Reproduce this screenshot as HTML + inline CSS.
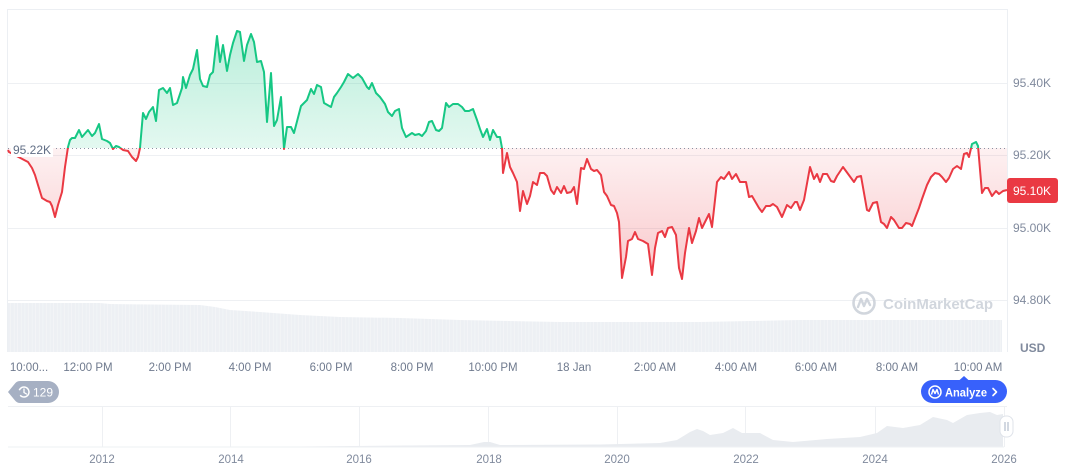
<!DOCTYPE html>
<html><head><meta charset="utf-8"><style>
html,body{margin:0;padding:0;background:#fff;}
svg{display:block;font-family:"Liberation Sans",sans-serif;}
</style></head><body>
<svg width="1072" height="470" viewBox="0 0 1072 470" xmlns="http://www.w3.org/2000/svg">
<defs>
<linearGradient id="gG" gradientUnits="userSpaceOnUse" x1="0" y1="30" x2="0" y2="148">
<stop offset="0" stop-color="#16c784" stop-opacity="0.30"/>
<stop offset="1" stop-color="#16c784" stop-opacity="0.12"/>
</linearGradient>
<linearGradient id="gR" gradientUnits="userSpaceOnUse" x1="0" y1="148" x2="0" y2="280">
<stop offset="0" stop-color="#ea3943" stop-opacity="0.07"/>
<stop offset="1" stop-color="#ea3943" stop-opacity="0.28"/>
</linearGradient>
<clipPath id="cA"><rect x="0" y="0" width="1072" height="148"/></clipPath>
<clipPath id="cB"><rect x="0" y="148" width="1072" height="200"/></clipPath>
<pattern id="vb" width="3.6" height="10" patternUnits="userSpaceOnUse"><rect width="3.6" height="10" fill="#edf0f4"/><rect x="3" width="0.6" height="10" fill="#f6f7f9"/></pattern>
</defs>

<!-- frame -->
<line x1="8" y1="9.5" x2="1007" y2="9.5" stroke="#eceff3" stroke-width="1"/>
<line x1="7.5" y1="9" x2="7.5" y2="352" stroke="#eceff3" stroke-width="1"/>
<line x1="1007.5" y1="9" x2="1007.5" y2="352" stroke="#eceff3" stroke-width="1"/>
<!-- grid -->
<g stroke="#eef0f3" stroke-width="1">
<line x1="8" y1="83.5" x2="1007" y2="83.5"/>
<line x1="8" y1="155.5" x2="1007" y2="155.5"/>
<line x1="8" y1="228.5" x2="1007" y2="228.5"/>
<line x1="8" y1="300.5" x2="1007" y2="300.5"/>
</g>

<!-- volume -->
<polygon fill="url(#vb)" points="8,303 100,303 110,304 200,305 215,307 230,310 260,312 300,315 340,317 400,318 460,320 560,322 700,322 800,320 1002,320 1002,352 8,352"/>

<!-- watermark -->
<g opacity="0.9">
<circle cx="864" cy="303" r="10.5" fill="none" stroke="#cdd2da" stroke-width="2.6"/>
<path d="M858,307 L861,299 L864,306 L867,299 L870,305" fill="none" stroke="#cdd2da" stroke-width="2.4" stroke-linejoin="round" stroke-linecap="round"/>
<text x="883" y="309" font-size="15" font-weight="bold" fill="#cdd2da">CoinMarketCap</text>
</g>

<!-- fills -->
<polygon clip-path="url(#cA)" fill="url(#gG)" points="8,148 8,150 9,152 28,162 32,168 35,175 38,185 42,198 47,201 50,202 52,206 55,217 58,205 62,192 65,167 68,147 70,140 72,138 75,138 79,130 82,137 88,130 92,136 95,133 99,124 102,139 107,141 110,143 113,149 116,146 119,147 123,150 128,151 132,157 136,161 138,157 140,148 143,113 146,119 149,112 153,107 156,121 159,90 163,88 167,93 170,88 173,105 177,103 182,88 183,77 186,88 190,75 193,69 197,50 200,79 203,86 207,87 210,75 213,72 217,36 220,62 223,45 227,71 230,55 233,43 237,31 240,32 244,61 247,45 251,34 254,42 257,62 261,61 264,72 267,122 271,73 274,126 277,120 281,97 284,149 287,127 291,127 294,133 301,106 307,100 311,89 314,94 317,85 321,87 324,103 331,107 334,97 337,93 341,87 344,82 348,74 353,78 358,74 362,78 367,87 369,89 372,83 376,93 380,97 385,104 388,112 392,116 395,111 399,109 402,128 406,137 409,135 412,133 415,135 419,134 422,136 426,131 429,122 432,121 436,130 439,131 442,128 446,103 449,107 453,104 458,104 462,107 465,111 469,111 473,109 477,120 480,129 483,137 487,129 490,140 493,130 497,137 500,137 502,148 503,173 507,153 510,167 513,173 517,182 520,211 523,191 527,204 530,196 533,182 537,185 540,173 544,173 547,176 551,190 554,194 557,187 561,193 564,186 567,193 571,192 574,187 577,204 581,168 584,169 587,159 591,169 594,171 597,170 601,175 604,192 607,196 611,205 614,206 617,213 619,222 622,278 626,257 628,241 632,239 635,232 638,239 643,241 648,244 652,275 655,248 658,233 662,231 665,237 668,228 672,227 676,235 679,268 682,279 685,253 689,228 692,243 696,231 699,218 702,228 709,214 712,227 717,182 721,177 724,179 729,172 732,179 736,174 740,182 746,182 749,197 752,196 759,208 762,212 766,206 770,206 773,204 777,207 782,217 787,205 791,208 795,202 797,202 800,210 804,200 810,167 814,179 817,174 820,182 823,174 827,174 831,181 834,182 837,176 843,167 854,182 857,177 861,176 867,210 869,211 873,203 877,202 881,222 884,224 887,228 891,217 894,220 899,228 902,228 906,223 910,224 912,226 919,208 922,199 927,185 931,177 935,173 939,174 942,177 946,182 949,178 953,169 957,166 961,169 964,154 967,153 969,157 972,144 976,142 978,146 982,193 985,188 988,188 992,196 996,191 999,194 1003,191 1007,190 1007,148"/>
<polygon clip-path="url(#cB)" fill="url(#gR)" points="8,148 8,150 9,152 28,162 32,168 35,175 38,185 42,198 47,201 50,202 52,206 55,217 58,205 62,192 65,167 68,147 70,140 72,138 75,138 79,130 82,137 88,130 92,136 95,133 99,124 102,139 107,141 110,143 113,149 116,146 119,147 123,150 128,151 132,157 136,161 138,157 140,148 143,113 146,119 149,112 153,107 156,121 159,90 163,88 167,93 170,88 173,105 177,103 182,88 183,77 186,88 190,75 193,69 197,50 200,79 203,86 207,87 210,75 213,72 217,36 220,62 223,45 227,71 230,55 233,43 237,31 240,32 244,61 247,45 251,34 254,42 257,62 261,61 264,72 267,122 271,73 274,126 277,120 281,97 284,149 287,127 291,127 294,133 301,106 307,100 311,89 314,94 317,85 321,87 324,103 331,107 334,97 337,93 341,87 344,82 348,74 353,78 358,74 362,78 367,87 369,89 372,83 376,93 380,97 385,104 388,112 392,116 395,111 399,109 402,128 406,137 409,135 412,133 415,135 419,134 422,136 426,131 429,122 432,121 436,130 439,131 442,128 446,103 449,107 453,104 458,104 462,107 465,111 469,111 473,109 477,120 480,129 483,137 487,129 490,140 493,130 497,137 500,137 502,148 503,173 507,153 510,167 513,173 517,182 520,211 523,191 527,204 530,196 533,182 537,185 540,173 544,173 547,176 551,190 554,194 557,187 561,193 564,186 567,193 571,192 574,187 577,204 581,168 584,169 587,159 591,169 594,171 597,170 601,175 604,192 607,196 611,205 614,206 617,213 619,222 622,278 626,257 628,241 632,239 635,232 638,239 643,241 648,244 652,275 655,248 658,233 662,231 665,237 668,228 672,227 676,235 679,268 682,279 685,253 689,228 692,243 696,231 699,218 702,228 709,214 712,227 717,182 721,177 724,179 729,172 732,179 736,174 740,182 746,182 749,197 752,196 759,208 762,212 766,206 770,206 773,204 777,207 782,217 787,205 791,208 795,202 797,202 800,210 804,200 810,167 814,179 817,174 820,182 823,174 827,174 831,181 834,182 837,176 843,167 854,182 857,177 861,176 867,210 869,211 873,203 877,202 881,222 884,224 887,228 891,217 894,220 899,228 902,228 906,223 910,224 912,226 919,208 922,199 927,185 931,177 935,173 939,174 942,177 946,182 949,178 953,169 957,166 961,169 964,154 967,153 969,157 972,144 976,142 978,146 982,193 985,188 988,188 992,196 996,191 999,194 1003,191 1007,190 1007,148"/>

<!-- baseline -->
<line x1="8" y1="148.5" x2="1007" y2="148.5" stroke="#8a93a3" stroke-width="1" stroke-dasharray="1,3"/>

<!-- lines -->
<polyline clip-path="url(#cA)" fill="none" stroke="#16c784" stroke-width="2" stroke-linejoin="round" points="8,150 9,152 28,162 32,168 35,175 38,185 42,198 47,201 50,202 52,206 55,217 58,205 62,192 65,167 68,147 70,140 72,138 75,138 79,130 82,137 88,130 92,136 95,133 99,124 102,139 107,141 110,143 113,149 116,146 119,147 123,150 128,151 132,157 136,161 138,157 140,148 143,113 146,119 149,112 153,107 156,121 159,90 163,88 167,93 170,88 173,105 177,103 182,88 183,77 186,88 190,75 193,69 197,50 200,79 203,86 207,87 210,75 213,72 217,36 220,62 223,45 227,71 230,55 233,43 237,31 240,32 244,61 247,45 251,34 254,42 257,62 261,61 264,72 267,122 271,73 274,126 277,120 281,97 284,149 287,127 291,127 294,133 301,106 307,100 311,89 314,94 317,85 321,87 324,103 331,107 334,97 337,93 341,87 344,82 348,74 353,78 358,74 362,78 367,87 369,89 372,83 376,93 380,97 385,104 388,112 392,116 395,111 399,109 402,128 406,137 409,135 412,133 415,135 419,134 422,136 426,131 429,122 432,121 436,130 439,131 442,128 446,103 449,107 453,104 458,104 462,107 465,111 469,111 473,109 477,120 480,129 483,137 487,129 490,140 493,130 497,137 500,137 502,148 503,173 507,153 510,167 513,173 517,182 520,211 523,191 527,204 530,196 533,182 537,185 540,173 544,173 547,176 551,190 554,194 557,187 561,193 564,186 567,193 571,192 574,187 577,204 581,168 584,169 587,159 591,169 594,171 597,170 601,175 604,192 607,196 611,205 614,206 617,213 619,222 622,278 626,257 628,241 632,239 635,232 638,239 643,241 648,244 652,275 655,248 658,233 662,231 665,237 668,228 672,227 676,235 679,268 682,279 685,253 689,228 692,243 696,231 699,218 702,228 709,214 712,227 717,182 721,177 724,179 729,172 732,179 736,174 740,182 746,182 749,197 752,196 759,208 762,212 766,206 770,206 773,204 777,207 782,217 787,205 791,208 795,202 797,202 800,210 804,200 810,167 814,179 817,174 820,182 823,174 827,174 831,181 834,182 837,176 843,167 854,182 857,177 861,176 867,210 869,211 873,203 877,202 881,222 884,224 887,228 891,217 894,220 899,228 902,228 906,223 910,224 912,226 919,208 922,199 927,185 931,177 935,173 939,174 942,177 946,182 949,178 953,169 957,166 961,169 964,154 967,153 969,157 972,144 976,142 978,146 982,193 985,188 988,188 992,196 996,191 999,194 1003,191 1007,190"/>
<polyline clip-path="url(#cB)" fill="none" stroke="#ea3943" stroke-width="2" stroke-linejoin="round" points="8,150 9,152 28,162 32,168 35,175 38,185 42,198 47,201 50,202 52,206 55,217 58,205 62,192 65,167 68,147 70,140 72,138 75,138 79,130 82,137 88,130 92,136 95,133 99,124 102,139 107,141 110,143 113,149 116,146 119,147 123,150 128,151 132,157 136,161 138,157 140,148 143,113 146,119 149,112 153,107 156,121 159,90 163,88 167,93 170,88 173,105 177,103 182,88 183,77 186,88 190,75 193,69 197,50 200,79 203,86 207,87 210,75 213,72 217,36 220,62 223,45 227,71 230,55 233,43 237,31 240,32 244,61 247,45 251,34 254,42 257,62 261,61 264,72 267,122 271,73 274,126 277,120 281,97 284,149 287,127 291,127 294,133 301,106 307,100 311,89 314,94 317,85 321,87 324,103 331,107 334,97 337,93 341,87 344,82 348,74 353,78 358,74 362,78 367,87 369,89 372,83 376,93 380,97 385,104 388,112 392,116 395,111 399,109 402,128 406,137 409,135 412,133 415,135 419,134 422,136 426,131 429,122 432,121 436,130 439,131 442,128 446,103 449,107 453,104 458,104 462,107 465,111 469,111 473,109 477,120 480,129 483,137 487,129 490,140 493,130 497,137 500,137 502,148 503,173 507,153 510,167 513,173 517,182 520,211 523,191 527,204 530,196 533,182 537,185 540,173 544,173 547,176 551,190 554,194 557,187 561,193 564,186 567,193 571,192 574,187 577,204 581,168 584,169 587,159 591,169 594,171 597,170 601,175 604,192 607,196 611,205 614,206 617,213 619,222 622,278 626,257 628,241 632,239 635,232 638,239 643,241 648,244 652,275 655,248 658,233 662,231 665,237 668,228 672,227 676,235 679,268 682,279 685,253 689,228 692,243 696,231 699,218 702,228 709,214 712,227 717,182 721,177 724,179 729,172 732,179 736,174 740,182 746,182 749,197 752,196 759,208 762,212 766,206 770,206 773,204 777,207 782,217 787,205 791,208 795,202 797,202 800,210 804,200 810,167 814,179 817,174 820,182 823,174 827,174 831,181 834,182 837,176 843,167 854,182 857,177 861,176 867,210 869,211 873,203 877,202 881,222 884,224 887,228 891,217 894,220 899,228 902,228 906,223 910,224 912,226 919,208 922,199 927,185 931,177 935,173 939,174 942,177 946,182 949,178 953,169 957,166 961,169 964,154 967,153 969,157 972,144 976,142 978,146 982,193 985,188 988,188 992,196 996,191 999,194 1003,191 1007,190"/>

<!-- baseline label -->
<rect x="11" y="142" width="42" height="15" fill="#fff"/>
<text x="13" y="154" font-size="12" fill="#616e85">95.22K</text>

<!-- y-axis labels -->
<g font-size="12" fill="#808a9d">
<text x="1013" y="87">95.40K</text>
<text x="1013" y="159">95.20K</text>
<text x="1013" y="232">95.00K</text>
<text x="1013" y="304">94.80K</text>
</g>
<rect x="1007" y="178" width="51" height="25" rx="3" fill="#ea3943"/>
<text x="1013" y="195" font-size="12" fill="#fff">95.10K</text>
<text x="1020" y="352" font-size="12" font-weight="bold" fill="#808a9d">USD</text>

<!-- time axis -->
<g font-size="11.5" fill="#6f7a8e" text-anchor="middle">
<text x="29" y="371">10:00...</text>
<text x="88" y="371">12:00 PM</text>
<text x="170" y="371">2:00 PM</text>
<text x="250" y="371">4:00 PM</text>
<text x="331" y="371">6:00 PM</text>
<text x="412" y="371">8:00 PM</text>
<text x="493" y="371">10:00 PM</text>
<text x="574" y="371">18 Jan</text>
<text x="655" y="371">2:00 AM</text>
<text x="736" y="371">4:00 AM</text>
<text x="816" y="371">6:00 AM</text>
<text x="897" y="371">8:00 AM</text>
<text x="978" y="371">10:00 AM</text>
</g>

<!-- 129 badge -->
<path d="M8,392 L15,383.5 Q17,381 20,381 L48,381 A11,11 0 0 1 48,403 L20,403 Q17,403 15,400.5 Z" fill="#a6b0c3"/>
<circle cx="24" cy="392" r="5" fill="none" stroke="#fff" stroke-width="1.5" stroke-dasharray="26 6" transform="rotate(200 24 392)"/>
<path d="M24,389 L24,392.5 L26.5,394" fill="none" stroke="#fff" stroke-width="1.3" stroke-linecap="round"/>
<text x="33" y="396.5" font-size="12" fill="#fff">129</text>

<!-- Analyze -->
<path d="M959,380.5 L964,376 L969,380.5 Z" fill="#3861fb"/>
<rect x="921" y="380" width="86" height="23" rx="11.5" fill="#3861fb"/>
<circle cx="935" cy="392" r="6" fill="none" stroke="#fff" stroke-width="1.5"/>
<path d="M931.5,394.5 L933,389.5 L935,393.5 L937,389.5 L938.5,394.5" fill="none" stroke="#fff" stroke-width="1.4" stroke-linejoin="round"/>
<text x="945" y="396.5" font-size="12" font-weight="bold" fill="#fff" textLength="42" lengthAdjust="spacingAndGlyphs">Analyze</text>
<path d="M993,388.5 L996.5,392 L993,395.5" fill="none" stroke="#fff" stroke-width="1.6" stroke-linecap="round" stroke-linejoin="round"/>

<!-- navigator -->
<line x1="8" y1="406.5" x2="1007" y2="406.5" stroke="#eef0f3"/>
<g stroke="#eef0f3">
<line x1="102.5" y1="406" x2="102.5" y2="447"/>
<line x1="230.5" y1="406" x2="230.5" y2="447"/>
<line x1="359.5" y1="406" x2="359.5" y2="447"/>
<line x1="488.5" y1="406" x2="488.5" y2="447"/>
<line x1="617.5" y1="406" x2="617.5" y2="447"/>
<line x1="745.5" y1="406" x2="745.5" y2="447"/>
<line x1="875.5" y1="406" x2="875.5" y2="447"/>
<line x1="1004.5" y1="406" x2="1004.5" y2="447"/>
</g>
<polygon fill="#e9ecf0" points="8,447 300,446.5 470,445 484,442 490,442 500,445 600,444.5 660,443 677,440 690,432 697,429 703,431 710,435 723,433 733,428 742,433 760,433 773,440 793,442 827,439 860,437 877,433 887,426 903,428 920,425 933,417 947,420 953,423 967,415 980,413 990,412 997,415 1003,414 1003,447"/>
<line x1="8" y1="447" x2="1004" y2="447" stroke="#eef0f3"/>
<rect x="1000" y="416" width="13" height="21" rx="6" fill="#fff" stroke="#dfe3ea"/>
<line x1="1005" y1="422" x2="1005" y2="431" stroke="#a6b0c3"/>
<line x1="1008" y1="422" x2="1008" y2="431" stroke="#a6b0c3"/>

<g font-size="11.5" fill="#808a9d" text-anchor="middle">
<text x="102" y="463">2012</text>
<text x="231" y="463">2014</text>
<text x="359" y="463">2016</text>
<text x="489" y="463">2018</text>
<text x="617" y="463">2020</text>
<text x="746" y="463">2022</text>
<text x="875" y="463">2024</text>
<text x="1004" y="463">2026</text>
</g>
</svg>
</body></html>
